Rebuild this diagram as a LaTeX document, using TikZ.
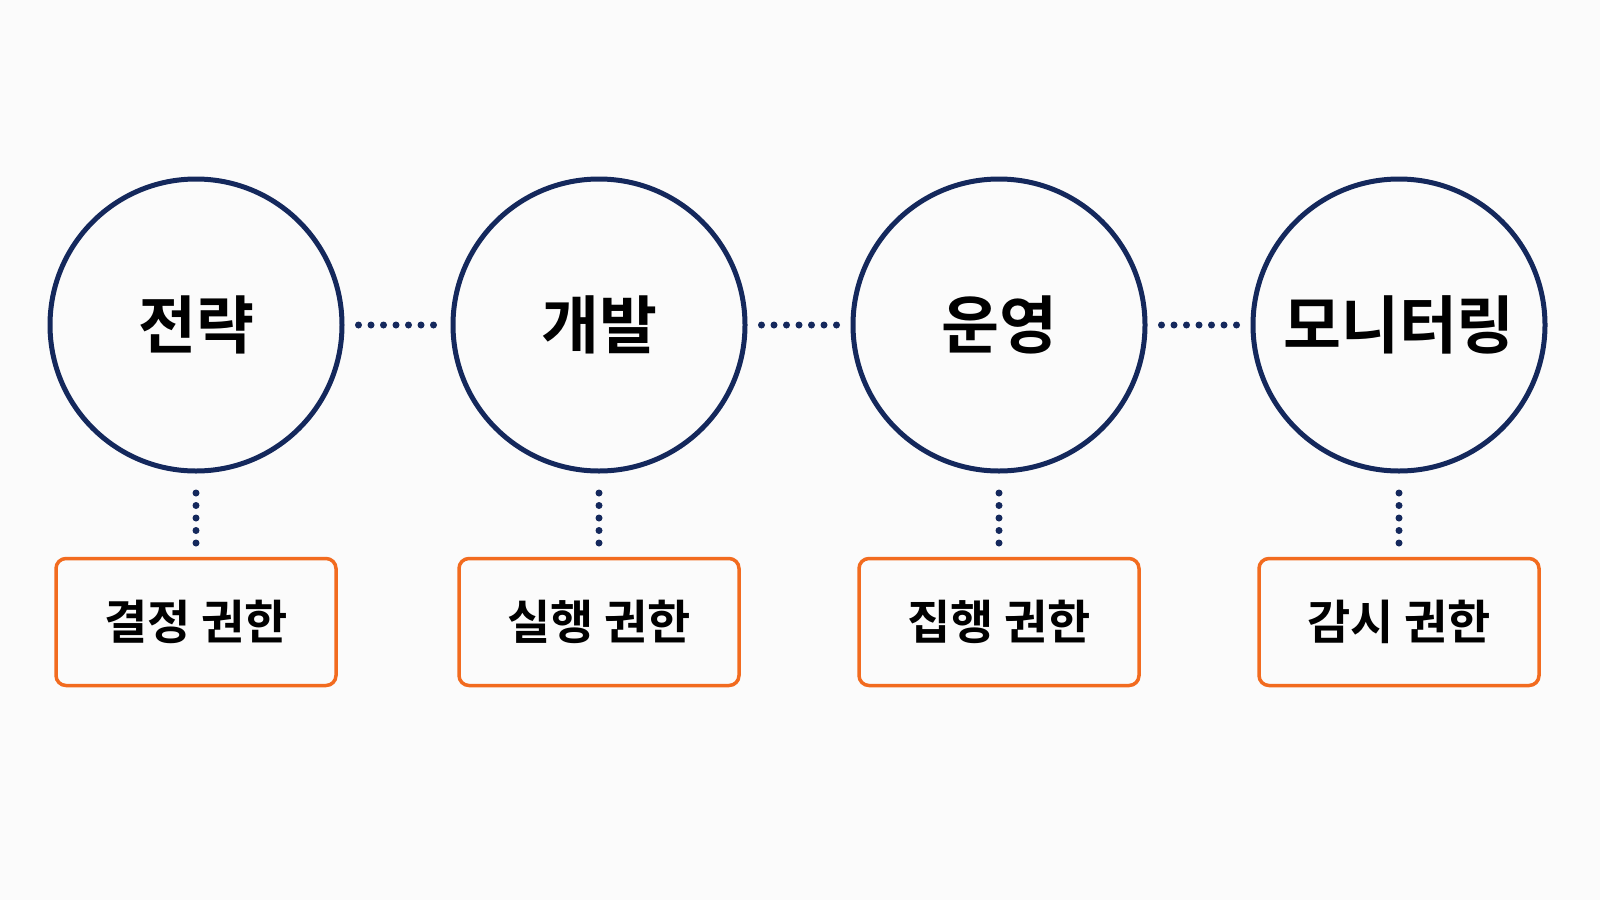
\documentclass[tikz,border=0pt]{standalone}
\usepackage{fontspec}
\newfontfamily\kr{Noto Sans CJK KR}[BoldFont={* Bold}]
\begin{document}
\begin{tikzpicture}[x=1pt,y=-1pt,
  circ/.style={circle,draw=navy,line width=5pt,minimum size=292pt,inner sep=0pt,font=\kr\bfseries\fontsize{63}{70}\selectfont,text=black},
  box/.style={rectangle,rounded corners=10pt,draw=orng,line width=3.5pt,minimum width=280pt,minimum height=127pt,font=\kr\bfseries\fontsize{47}{54}\selectfont,text=black},
  dots/.style={navy,line width=7pt,line cap=round,dash pattern=on 0pt off 12.5pt}]
\definecolor{navy}{HTML}{14285C}
\definecolor{orng}{HTML}{F26B1F}
\fill[white!97!gray] (0,0) rectangle (1600,900);
\useasboundingbox (0,0) rectangle (1600,900);
\foreach \n/\x/\t/\s in {a/196/전략/결정 권한, b/599/개발/실행 권한, c/999/운영/집행 권한, d/1399/모니터링/감시 권한}{
  \node[circ] (\n) at (\x,325) {\t};
  \node[box] (\n b) at (\x,622) {\s};
  \coordinate (\n t) at (\x,493);
  \coordinate (\n u) at (\x,543);
  \draw[dots] (\n t) -- (\n u);
}
\foreach \p/\q in {a/b,b/c,c/d}{
  \draw[dots] ([xshift=14pt]\p.east) -- ([xshift=-10pt]\q.west);
}
\end{tikzpicture}
\end{document}
